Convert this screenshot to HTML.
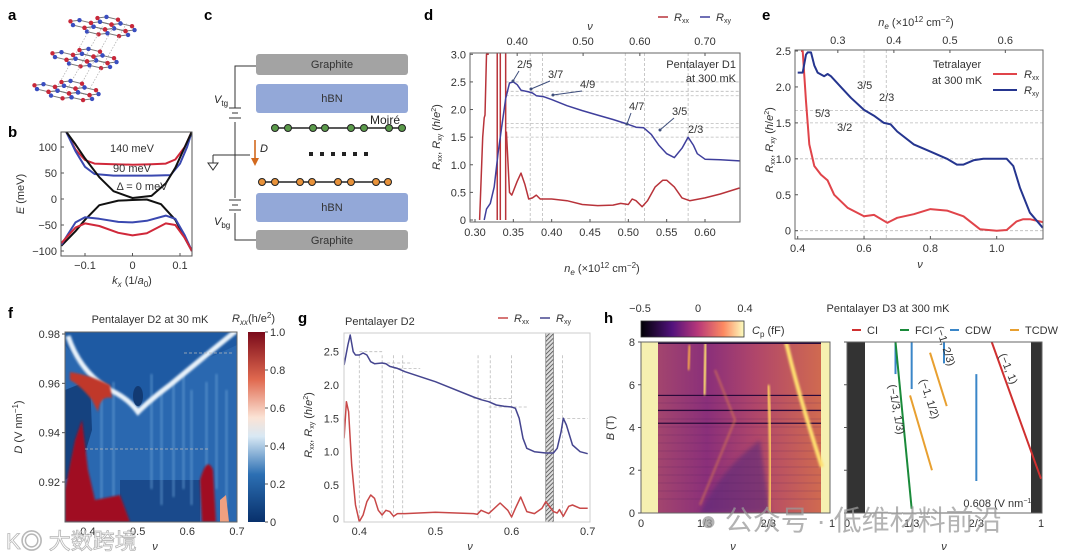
<!DOCTYPE html>
<html><head><meta charset="utf-8">
<style>
html,body{margin:0;padding:0;background:#fff;}
svg{display:block;font-family:"Liberation Sans","Noto Sans CJK SC",sans-serif;}
.t{font-size:11px;fill:#333;}
.pl{font-size:15px;font-weight:bold;fill:#000;}
</style></head>
<body>
<svg id="fig" width="1080" height="559" viewBox="0 0 1080 559" xmlns="http://www.w3.org/2000/svg">
<defs>
  <linearGradient id="cbf" x1="0" y1="1" x2="0" y2="0">
    <stop offset="0" stop-color="#08306b"/><stop offset="0.25" stop-color="#2c6fb3"/>
    <stop offset="0.45" stop-color="#d8e8f4"/><stop offset="0.55" stop-color="#fbe3d5"/>
    <stop offset="0.75" stop-color="#e0694f"/><stop offset="1" stop-color="#7a0a1a"/>
  </linearGradient>
  <linearGradient id="cbh" x1="0" y1="0" x2="1" y2="0">
    <stop offset="0" stop-color="#000004"/><stop offset="0.3" stop-color="#51127c"/>
    <stop offset="0.55" stop-color="#b73779"/><stop offset="0.8" stop-color="#fc8961"/>
    <stop offset="1" stop-color="#fcfdbf"/>
  </linearGradient>
  <linearGradient id="hmh" x1="0" y1="0" x2="1" y2="0">
    <stop offset="0" stop-color="#a3456e"/><stop offset="0.3" stop-color="#8a2f7a"/>
    <stop offset="0.6" stop-color="#b0466a"/><stop offset="1" stop-color="#d06a50"/>
  </linearGradient>
  <pattern id="hatch" width="3" height="3" patternUnits="userSpaceOnUse" patternTransform="rotate(45)">
    <rect width="3" height="3" fill="#ddd"/><line x1="0" y1="0" x2="0" y2="3" stroke="#444" stroke-width="1.5"/>
  </pattern>
  <filter id="blur2"><feGaussianBlur stdDeviation="2"/></filter>
  <filter id="blur1"><feGaussianBlur stdDeviation="1"/></filter>
</defs>

<text class="pl" x="8" y="20">a</text>
<text class="pl" x="8" y="137">b</text>
<text class="pl" x="204" y="20">c</text>
<text class="pl" x="424" y="20">d</text>
<text class="pl" x="762" y="20">e</text>
<text class="pl" x="8" y="318">f</text>
<text class="pl" x="298" y="323">g</text>
<text class="pl" x="604" y="323">h</text>

<g id="pa"></g>
<g id="pb"></g>

<g id="pc">
  <rect x="256" y="54" width="152" height="21" rx="3" fill="#a3a3a3"/>
  <text x="332" y="68" text-anchor="middle" class="t" fill="#222">Graphite</text>
  <rect x="256" y="84" width="152" height="29" rx="3" fill="#93a8d8"/>
  <text x="332" y="102" text-anchor="middle" class="t">hBN</text>
  <text x="370" y="124" font-size="12" fill="#222">Moiré</text>
  <line x1="275" y1="128" x2="402" y2="128" stroke="#222" stroke-width="1.5"/>
  <g fill="#5a9a4a" stroke="#222" stroke-width="1">
    <circle cx="275" cy="128" r="3.5"/><circle cx="288" cy="128" r="3.5"/><circle cx="313" cy="128" r="3.5"/><circle cx="325" cy="128" r="3.5"/>
    <circle cx="351" cy="128" r="3.5"/><circle cx="364" cy="128" r="3.5"/><circle cx="389" cy="128" r="3.5"/><circle cx="402" cy="128" r="3.5"/>
  </g>
  <g fill="#222"><rect x="309" y="152" width="4" height="4"/><rect x="320" y="152" width="4" height="4"/><rect x="331" y="152" width="4" height="4"/><rect x="342" y="152" width="4" height="4"/><rect x="353" y="152" width="4" height="4"/><rect x="364" y="152" width="4" height="4"/></g>
  <line x1="262" y1="182" x2="388" y2="182" stroke="#222" stroke-width="1.5"/>
  <g fill="#e8923a" stroke="#222" stroke-width="1">
    <circle cx="262" cy="182" r="3.5"/><circle cx="275" cy="182" r="3.5"/><circle cx="300" cy="182" r="3.5"/><circle cx="312" cy="182" r="3.5"/>
    <circle cx="338" cy="182" r="3.5"/><circle cx="351" cy="182" r="3.5"/><circle cx="376" cy="182" r="3.5"/><circle cx="388" cy="182" r="3.5"/>
  </g>
  <rect x="256" y="193" width="152" height="29" rx="3" fill="#93a8d8"/>
  <text x="332" y="211" text-anchor="middle" class="t">hBN</text>
  <rect x="256" y="230" width="152" height="20" rx="3" fill="#a3a3a3"/>
  <text x="332" y="244" text-anchor="middle" class="t" fill="#222">Graphite</text>
  <g stroke="#333" stroke-width="1" fill="none">
    <polyline points="256,66 235,66 235,108"/><line x1="229" y1="108" x2="241" y2="108"/><line x1="232" y1="113" x2="238" y2="113"/><line x1="229" y1="118" x2="241" y2="118"/>
    <line x1="235" y1="122" x2="235" y2="198"/>
    <line x1="213" y1="155" x2="250" y2="155"/><line x1="213" y1="155" x2="213" y2="163"/><polygon points="208,163 218,163 213,170"/>
    <line x1="229" y1="200" x2="241" y2="200"/><line x1="232" y1="205" x2="238" y2="205"/><line x1="229" y1="210" x2="241" y2="210"/>
    <polyline points="235,213 235,240 256,240"/>
  </g>
  <line x1="255" y1="140" x2="255" y2="160" stroke="#d2691e" stroke-width="1.6"/>
  <polygon points="251,158 259,158 255,166" fill="#d2691e"/>
  <text x="260" y="152" font-size="11" font-style="italic" fill="#222">D</text>
  <text x="214" y="103" font-size="11" font-style="italic" fill="#222">V<tspan font-size="8" dy="3" font-style="normal">tg</tspan></text>
  <text x="214" y="225" font-size="11" font-style="italic" fill="#222">V<tspan font-size="8" dy="3" font-style="normal">bg</tspan></text>
</g>

<g id="pd"></g>
<g id="pe"></g>
<g id="pf"></g>
<g id="pg"></g>
<g id="ph"></g>

<text x="6" y="549" font-size="22" fill="#fff" stroke="#aaa" stroke-width="0.8" opacity="0.85">K◎ 大数跨境</text>
<text x="700" y="530" font-size="28" fill="#9a9a9a" opacity="0.75">● 公众号 · 低维材料前沿</text>
</svg>

<script>
// ===== data arrays =====
const bK_black_up=[-0.14,-0.12,-0.1,-0.07,-0.04,0,0.04,0.07,0.09,0.11,0.125];
const bE_black_up=[130,105,78,42,15,2,6,30,60,100,130];
const bK_black_dn=[-0.15,-0.12,-0.1,-0.07,-0.03,0,0.03,0.06,0.09,0.11,0.125];
const bE_black_dn=[-90,-62,-40,-12,-3,-2,-1,-10,-40,-75,-100];
const bK_red_up=[-0.14,-0.12,-0.1,-0.08,-0.04,0,0.04,0.07,0.09,0.11,0.125];
const bE_red_up=[130,95,75,68,67,66,67,68,76,100,130];
const bK_blue_up=[-0.14,-0.12,-0.1,-0.08,-0.04,0,0.04,0.08,0.1,0.115,0.125];
const bE_blue_up=[130,92,62,48,45,45,45,46,68,100,130];
const bK_red_dn=[-0.15,-0.12,-0.1,-0.07,-0.03,0,0.03,0.07,0.09,0.11,0.125];
const bE_red_dn=[-85,-55,-47,-52,-65,-70,-66,-47,-50,-75,-100];
const bK_blue_dn=[-0.15,-0.12,-0.1,-0.07,-0.03,0,0.03,0.07,0.09,0.11,0.125];
const bE_blue_dn=[-88,-45,-35,-38,-44,-45,-42,-32,-38,-70,-100];
const bYTicks=[100,50,0,-50,-100];
const bXTicks=[-0.1,0,0.1];

const dNe_xy=[0.312,0.315,0.32,0.325,0.33,0.335,0.34,0.345,0.35,0.355,0.36,0.37,0.375,0.38,0.39,0.40,0.42,0.44,0.46,0.48,0.50,0.51,0.52,0.53,0.54,0.55,0.56,0.57,0.578,0.585,0.59,0.60,0.62,0.645];
const dRxy=[0,0.2,0.3,0.6,1.2,1.7,2.2,2.48,2.5,2.45,2.35,2.32,2.3,2.25,2.23,2.18,2.07,1.98,1.9,1.82,1.73,1.68,1.67,1.55,1.35,1.2,1.13,1.3,1.5,1.35,1.2,1.1,1.09,1.07];
const dNe_xx=[0.306,0.31,0.312,0.313,0.315,0.318];
const dRxx_a=[0,1.5,1.85,1.9,3.0,3.0];
const dSpikes=[0.329,0.333,0.340];
const dNe_xx2=[0.341,0.345,0.348,0.355,0.36,0.365,0.37,0.375,0.38,0.385,0.40,0.42,0.44,0.46,0.48,0.49,0.50,0.505,0.51,0.518,0.525,0.535,0.545,0.55,0.56,0.57,0.58,0.60,0.62,0.645];
const dRxx_b=[1.6,0.5,0.45,0.7,0.85,0.65,0.38,0.4,0.45,0.38,0.38,0.35,0.28,0.26,0.27,0.3,0.28,0.38,0.35,0.24,0.35,0.6,0.72,0.72,0.6,0.4,0.35,0.4,0.47,0.58];
const dXTicks=[0.30,0.35,0.40,0.45,0.50,0.55,0.60];
const dYTicks=[0,0.5,1.0,1.5,2.0,2.5,3.0];
const dNuLabels=["0.40","0.50","0.60","0.70"];
const dNuNe=[0.355,0.441,0.515,0.60];
const dGridV=[0.372,0.388,0.496,0.521,0.578];
const dGridH=[2.5,2.33,2.25,1.75,1.67,1.5];

const eNu_xy=[0.40,0.415,0.425,0.43,0.44,0.45,0.46,0.48,0.49,0.50,0.53,0.56,0.6,0.63,0.66,0.68,0.7,0.75,0.8,0.85,0.88,0.9,0.93,0.96,1.0,1.03,1.05,1.07,1.1,1.139];
const eRxy=[2.2,2.2,2.45,2.48,2.48,2.3,2.2,2.15,2.18,2.15,2.0,1.85,1.68,1.6,1.5,1.48,1.38,1.2,1.1,1.0,0.92,0.92,0.98,1.0,1.0,1.0,0.9,0.6,0.25,0.04];
const eNu_xx=[0.41,0.415,0.425,0.435,0.45,0.47,0.49,0.51,0.55,0.6,0.63,0.67,0.7,0.75,0.8,0.85,0.9,0.95,1.0,1.03,1.06,1.08,1.1,1.139];
const eRxx=[2.5,2.5,1.8,1.2,0.9,0.78,0.7,0.5,0.32,0.2,0.22,0.11,0.18,0.23,0.3,0.28,0.2,0.02,0,0.01,0.13,0.16,0.16,0.12];
const eXTicks=[0.4,0.6,0.8,1.0];
const eYTicks=[0,0.5,1.0,1.5,2.0,2.5];
const eTopLabels=["0.3","0.4","0.5","0.6"];
const eTopNu=[0.521,0.69,0.859,1.026];

const gNu_xy=[0.38,0.385,0.388,0.392,0.395,0.40,0.405,0.41,0.415,0.42,0.43,0.435,0.44,0.45,0.46,0.5,0.55,0.56,0.57,0.58,0.59,0.60,0.605,0.61,0.615,0.62,0.63,0.645,0.655,0.66,0.665,0.668,0.672,0.68,0.69,0.70];
const gRxy=[2.3,2.6,2.75,2.5,2.45,2.45,2.48,2.45,2.35,2.32,2.33,2.32,2.28,2.25,2.2,2.05,1.82,1.78,1.75,1.7,1.68,1.67,1.65,1.5,1.2,1.05,1.0,0.98,0.98,1.05,1.3,1.5,1.4,1.1,1.0,0.97];
const gNu_xx=[0.38,0.383,0.386,0.39,0.395,0.40,0.405,0.41,0.415,0.42,0.425,0.43,0.435,0.44,0.445,0.45,0.46,0.5,0.55,0.555,0.56,0.57,0.585,0.595,0.6,0.605,0.612,0.62,0.63,0.64,0.645,0.655,0.66,0.663,0.668,0.675,0.68,0.69,0.70];
const gRxx=[1.2,1.75,1.6,0.8,0.2,-0.05,0.05,0.25,0.35,0.3,0.12,0.05,0.12,0.1,0.03,0.07,0.07,0.09,0.07,0.06,0.12,0.07,0.23,0.12,0.02,0.15,0.32,0.1,0.07,0.15,0.25,0.1,0.08,0.13,0.03,0.18,0.2,0.15,0.15];
const gXTicks=[0.4,0.5,0.6,0.7];
const gYTicks=[0,0.5,1.0,1.5,2.0,2.5];
const gGridV=[0.40,0.43,0.445,0.457,0.556,0.572,0.60,0.667];

const hXTickLabels=["0","1/3","2/3","1"];
const hXTickVals=[0,1/3,2/3,1];
const hYTicks=[0,2,4,6,8];
const hCDW_nu=[0.25,1/3,0.5,2/3];
const hCDW_b0=[6.5,5.8,7.0,1.5];
const hCDW_b1=[8,8,8,6.5];
const hFCI=[[0.25,8],[1/3,0.2]];
const hTCDW1=[[0.428,7.5],[0.514,5.0]];
const hTCDW2=[[0.325,5.5],[0.438,2.0]];
const hCI=[[0.746,8],[1.0,1.6]];

// ===== helpers =====
const NS="http://www.w3.org/2000/svg";
function mk(tag,attrs,parent){const e=document.createElementNS(NS,tag);for(const k in attrs)e.setAttribute(k,attrs[k]);parent.appendChild(e);return e;}
function lin(d0,d1,r0,r1){return v=>r0+(v-d0)*(r1-r0)/(d1-d0);}
function pathD(xs,ys,sx,sy){return xs.map((x,i)=>(i?"L":"M")+sx(x).toFixed(1)+","+sy(ys[i]).toFixed(1)).join(" ");}
function txt(parent,x,y,s,attrs){const t=mk("text",Object.assign({x:x,y:y,class:"t"},attrs||{}),parent);t.textContent=s;return t;}

// ===== panel a: lattice =====
(function(){
  const g=document.getElementById("pa");
  const origins=[[82,24],[64,56],[46,88]];
  const s=9, h=Math.sqrt(3)*s;
  const proj=(o,x,y)=>[o[0]+x+0.9*y, o[1]+0.42*y-0.12*x];
  origins.forEach((o,li)=>{
    const verts=[];
    for(let i=0;i<3;i++)for(let j=0;j<2;j++){
      const cx=i*1.5*s, cy=j*h+(i%2)*h/2;
      const pts=[];for(let k=0;k<6;k++){const a=Math.PI/3*k;pts.push(proj(o,cx+s*Math.cos(a),cy+s*Math.sin(a)));verts.push([pts[k],k%2]);}
      const p=mk("polygon",{points:pts.map(p=>p.map(v=>v.toFixed(1)).join(",")).join(" "),fill:"none",stroke:"#777","stroke-width":1},g);
      
      
    }
    verts.forEach(v=>mk("circle",{cx:v[0][0],cy:v[0][1],r:2.2,fill:v[1]?"#3a4ec0":"#c8283a"},g));
    if(li<2){for(let k=0;k<4;k++){const p=proj(o,k*12,h*0.6);mk("line",{x1:p[0],y1:p[1],x2:p[0]-18,y2:p[1]+32,stroke:"#aaa","stroke-dasharray":"1.5,1.5","stroke-width":0.7},g);}}
  });
})();

// ===== panel b =====
(function(){
  const g=document.getElementById("pb");
  const L=61,R=192,T=132,B=256;
  const sx=lin(-0.1,0.1,85,180), sy=lin(100,-100,147,251);
  const clip=mk("clipPath",{id:"cb"},g);mk("rect",{x:L,y:T,width:R-L,height:B-T},clip);
  const cg=mk("g",{"clip-path":"url(#cb)"},g);
  [[bK_red_up,bE_red_up,"#d0283a","red-upper-band"],[bK_blue_up,bE_blue_up,"#3a48b0","blue-upper-band"],[bK_black_up,bE_black_up,"#111","black-upper-band"],
   [bK_black_dn,bE_black_dn,"#111","black-lower-band"],[bK_blue_dn,bE_blue_dn,"#3a48b0","blue-lower-band"],[bK_red_dn,bE_red_dn,"#d0283a","red-lower-band"]].forEach(s=>{
    const p=mk("path",{d:pathD(s[0],s[1],sx,sy),fill:"none",stroke:s[2],"stroke-width":2,"stroke-linejoin":"round"},cg);
    
    
  });
  mk("rect",{x:L,y:T,width:R-L,height:B-T,fill:"none",stroke:"#555","stroke-width":1},g);
  bYTicks.forEach(v=>{const y=sy(v);mk("line",{x1:L,y1:y,x2:L+3,y2:y,stroke:"#555"},g);txt(g,L-4,y+4,String(v).replace("-","−"),{"text-anchor":"end"});});
  bXTicks.forEach(v=>{const x=sx(v);mk("line",{x1:x,y1:B,x2:x,y2:B-3,stroke:"#555"},g);txt(g,x,B+13,String(v).replace("-","−"),{"text-anchor":"middle"});});
  txt(g,132,152,"140 meV",{"text-anchor":"middle"});
  txt(g,132,172,"90 meV",{"text-anchor":"middle"});
  txt(g,142,190,"Δ = 0 meV",{"text-anchor":"middle"});
  const yl=txt(g,0,0,"",{transform:"translate(24,194) rotate(-90)","text-anchor":"middle"});yl.innerHTML='<tspan font-style="italic">E</tspan> (meV)';
  const xl=txt(g,132,284,"",{"text-anchor":"middle"});xl.innerHTML='<tspan font-style="italic">k</tspan><tspan font-size="8" dy="3" font-style="italic">x</tspan><tspan dy="-3"> (1/</tspan><tspan font-style="italic">a</tspan><tspan font-size="8" dy="3">0</tspan><tspan dy="-3">)</tspan>';
})();

function frame(g,L,T,R,B){mk("rect",{x:L,y:T,width:R-L,height:B-T,fill:"none",stroke:"#666","stroke-width":1},g);}
function curve(g,xs,ys,sx,sy,color,name,w){const p=mk("path",{d:pathD(xs,ys,sx,sy),fill:"none",stroke:color,"stroke-width":w||1.5,"stroke-linejoin":"round"},g);return p;}
function dash(g,x1,y1,x2,y2){mk("line",{x1:x1,y1:y1,x2:x2,y2:y2,stroke:"#bbb","stroke-width":0.8,"stroke-dasharray":"3,2"},g);}

// ===== panel d =====
(function(){
  const g=document.getElementById("pd");
  const L=470,R=740,T=53,B=222;
  const sx=lin(0.30,0.60,475,705), sy=lin(0,3,220,54.3);
  dGridV.forEach(v=>dash(g,sx(v),T,sx(v),B));
  dGridH.forEach(v=>dash(g,sx(0.34),sy(v),R,sy(v)));
  const clip=mk("clipPath",{id:"cd"},g);mk("rect",{x:L,y:T,width:R-L,height:B-T},clip);
  const cg=mk("g",{"clip-path":"url(#cd)"},g);
  curve(cg,dNe_xx,dRxx_a,sx,sy,"#b8333a","rxx-line-d-start");
  dSpikes.forEach(v=>{const l=mk("line",{x1:sx(v),y1:sy(0),x2:sx(v),y2:T,stroke:"#b8333a","stroke-width":1.5},cg);});
  curve(cg,dNe_xx2,dRxx_b,sx,sy,"#b8333a","rxx-line-d");
  curve(cg,dNe_xy,dRxy,sx,sy,"#3f3f9c","rxy-line-d");
  frame(g,L,T,R,B);
  dYTicks.forEach(v=>{const y=sy(v);mk("line",{x1:L,y1:y,x2:L+3,y2:y,stroke:"#555"},g);txt(g,L-4,y+4,v===0?"0":v.toFixed(1),{"text-anchor":"end"});});
  dXTicks.forEach(v=>{const x=sx(v);mk("line",{x1:x,y1:B,x2:x,y2:B-3,stroke:"#555"},g);txt(g,x,B+14,v.toFixed(2),{"text-anchor":"middle"});});
  dNuLabels.forEach((s,i)=>{const x=sx(dNuNe[i]);mk("line",{x1:x,y1:T,x2:x,y2:T+3,stroke:"#555"},g);txt(g,x,T-8,s,{"text-anchor":"middle"});});
  txt(g,590,30,"ν",{"text-anchor":"middle","font-style":"italic","font-size":"12"});
  const xl=txt(g,602,272,"",{"text-anchor":"middle"});xl.innerHTML='<tspan font-style="italic">n</tspan><tspan font-size="8" dy="3" font-style="italic">e</tspan><tspan dy="-3"> (×10</tspan><tspan font-size="8" dy="-4">12</tspan><tspan dy="4"> cm</tspan><tspan font-size="8" dy="-4">−2</tspan><tspan dy="4">)</tspan>';
  const yl=txt(g,0,0,"",{transform:"translate(440,137) rotate(-90)","text-anchor":"middle"});yl.innerHTML='<tspan font-style="italic">R</tspan><tspan font-size="7" dy="2">xx</tspan><tspan dy="-2">, </tspan><tspan font-style="italic">R</tspan><tspan font-size="7" dy="2">xy</tspan><tspan dy="-2"> (</tspan><tspan font-style="italic">h</tspan>/<tspan font-style="italic">e</tspan><tspan font-size="7" dy="-4">2</tspan><tspan dy="4">)</tspan>';
  mk("line",{x1:658,y1:17,x2:668,y2:17,stroke:"#b8333a","stroke-width":1.5},g);
  const l1=txt(g,674,21,"");l1.innerHTML='<tspan font-style="italic">R</tspan><tspan font-size="7" dy="2">xx</tspan>';
  mk("line",{x1:700,y1:17,x2:710,y2:17,stroke:"#3f3f9c","stroke-width":1.5},g);
  const l2=txt(g,716,21,"");l2.innerHTML='<tspan font-style="italic">R</tspan><tspan font-size="7" dy="2">xy</tspan>';
  txt(g,736,68,"Pentalayer D1",{"text-anchor":"end","font-size":"12"});
  txt(g,736,82,"at 300 mK",{"text-anchor":"end","font-size":"12"});
  [["2/5",517,68,513,81],["3/7",548,78,531,89],["4/9",580,88,553,95],["4/7",629,110,627,124],["3/5",672,115,660,130]].forEach(a=>{
    txt(g,a[1],a[2],a[0]);mk("line",{x1:a[1]+2,y1:a[2]+3,x2:a[3],y2:a[4],stroke:"#3f4f7c","stroke-width":1},g);mk("circle",{cx:a[3],cy:a[4],r:1.5,fill:"#3f4f7c"},g);});
  txt(g,688,133,"2/3");
})();

// ===== panel e =====
(function(){
  const g=document.getElementById("pe");
  const L=795,R=1043,T=50,B=239;
  const sx=lin(0.4,1.0,797.7,996.7), sy=lin(0,2.5,230.7,51);
  [0.6,0.667].forEach(v=>dash(g,sx(v),T,sx(v),B));
  [1.67,1.5,1.0,0].forEach(v=>dash(g,L,sy(v),R,sy(v)));
  const clip=mk("clipPath",{id:"ce"},g);mk("rect",{x:L,y:T,width:R-L,height:B-T},clip);
  const cg=mk("g",{"clip-path":"url(#ce)"},g);
  curve(cg,eNu_xx,eRxx,sx,sy,"#e0444a","rxx-line-e",2);
  curve(cg,eNu_xy,eRxy,sx,sy,"#25358f","rxy-line-e",2);
  frame(g,L,T,R,B);
  eYTicks.forEach(v=>{const y=sy(v);mk("line",{x1:L,y1:y,x2:L+3,y2:y,stroke:"#555"},g);txt(g,L-4,y+4,v===0?"0":v.toFixed(1),{"text-anchor":"end"});});
  eXTicks.forEach(v=>{const x=sx(v);mk("line",{x1:x,y1:B,x2:x,y2:B-3,stroke:"#555"},g);txt(g,x,B+13,v.toFixed(1),{"text-anchor":"middle"});});
  eTopLabels.forEach((s,i)=>{const x=sx(eTopNu[i]);mk("line",{x1:x,y1:T,x2:x,y2:T+3,stroke:"#555"},g);txt(g,x,T-6,s,{"text-anchor":"middle"});});
  txt(g,920,268,"ν",{"text-anchor":"middle","font-style":"italic","font-size":"12"});
  const xt=txt(g,916,26,"",{"text-anchor":"middle"});xt.innerHTML='<tspan font-style="italic">n</tspan><tspan font-size="8" dy="3" font-style="italic">e</tspan><tspan dy="-3"> (×10</tspan><tspan font-size="8" dy="-4">12</tspan><tspan dy="4"> cm</tspan><tspan font-size="8" dy="-4">−2</tspan><tspan dy="4">)</tspan>';
  const yl=txt(g,0,0,"",{transform:"translate(773,140) rotate(-90)","text-anchor":"middle"});yl.innerHTML='<tspan font-style="italic">R</tspan><tspan font-size="7" dy="2">xx</tspan><tspan dy="-2">, </tspan><tspan font-style="italic">R</tspan><tspan font-size="7" dy="2">xy</tspan><tspan dy="-2"> (</tspan><tspan font-style="italic">h</tspan>/<tspan font-style="italic">e</tspan><tspan font-size="7" dy="-4">2</tspan><tspan dy="4">)</tspan>';
  txt(g,957,68,"Tetralayer",{"text-anchor":"middle","font-size":"12"});
  txt(g,957,84,"at 300 mK",{"text-anchor":"middle","font-size":"12"});
  mk("line",{x1:993,y1:74,x2:1017,y2:74,stroke:"#e0444a","stroke-width":2},g);
  mk("line",{x1:993,y1:90,x2:1017,y2:90,stroke:"#25358f","stroke-width":2},g);
  const a=txt(g,1024,78,"");a.innerHTML='<tspan font-style="italic">R</tspan><tspan font-size="7" dy="2">xx</tspan>';
  const b=txt(g,1024,94,"");b.innerHTML='<tspan font-style="italic">R</tspan><tspan font-size="7" dy="2">xy</tspan>';
  txt(g,857,89,"3/5");txt(g,879,101,"2/3");txt(g,815,117,"5/3");txt(g,837,131,"3/2");
})();

// ===== panel f heatmap =====
(function(){
  const g=document.getElementById("pf");
  const L=65,R=237,T=332,B=522;
  const sx=lin(0.4,0.7,88,237), sy=lin(0.98,0.92,334,482);
  const clip=mk("clipPath",{id:"cf"},g);mk("rect",{x:L,y:T,width:R-L,height:B-T},clip);
  const cg=mk("g",{"clip-path":"url(#cf)"},g);
  mk("rect",{x:L,y:T,width:R-L,height:B-T,fill:"#2a68b0"},cg);
  mk("path",{d:"M65,332 L237,332 L237,345 L200,362 L170,385 L140,410 L110,392 L85,372 L65,345 Z",fill:"#1e5aa3"},cg);
  mk("path",{d:"M65,390 L90,380 L92,430 L80,470 L65,480 Z",fill:"#15427f"},cg);
  mk("path",{d:"M120,480 L200,480 L200,522 L120,522 Z",fill:"#1a4a8c"},cg);
  [100,112,150,160,172,182,190,205,215,225].forEach((x,i)=>{mk("rect",{x:x,y:390-(i%3)*8,width:3,height:115,fill:"#6aa3d6",opacity:0.45,filter:"url(#blur1)"},cg);});
  mk("path",{d:"M68,336 Q80,372 110,390 Q128,398 138,412 Q150,400 170,385 Q205,356 237,330",fill:"none",stroke:"#e8f2fa","stroke-width":5,filter:"url(#blur1)"},cg);
  mk("ellipse",{cx:138,cy:396,rx:5,ry:10,fill:"#123a73"},cg);
  mk("path",{d:"M70,372 Q90,375 110,385 L112,398 Q100,395 98,412 L92,400 Q80,385 70,380Z",fill:"#c0392b",filter:"url(#blur1)"},cg);
  mk("path",{d:"M65,490 L75,440 L82,420 L88,470 L95,500 L120,495 L130,522 L65,522Z",fill:"#a01020",filter:"url(#blur1)"},cg);
  mk("path",{d:"M200,480 Q207,455 213,470 L216,522 L202,522Z",fill:"#a01020",filter:"url(#blur1)"},cg);
  mk("path",{d:"M220,500 L226,495 L229,522 L220,522Z",fill:"#f0a080"},cg);
  dash(g,85,449,210,449);dash(g,184,353,233,353);
  frame(g,L,T,R,B);
  [0.98,0.96,0.94,0.92].forEach(v=>{const y=sy(v);mk("line",{x1:L,y1:y,x2:L-3,y2:y,stroke:"#555"},g);txt(g,L-5,y+4,v.toFixed(2),{"text-anchor":"end"});});
  [0.4,0.5,0.6,0.7].forEach(v=>{const x=sx(v);txt(g,x,B+13,v.toFixed(1),{"text-anchor":"middle"});});
  txt(g,155,550,"ν",{"text-anchor":"middle","font-style":"italic","font-size":"12"});
  const yl=txt(g,0,0,"",{transform:"translate(22,427) rotate(-90)","text-anchor":"middle"});yl.innerHTML='<tspan font-style="italic">D</tspan> (V nm<tspan font-size="8" dy="-4">−1</tspan><tspan dy="4">)</tspan>';
  txt(g,150,323,"Pentalayer D2  at 30 mK",{"text-anchor":"middle","font-size":"12"});
  const cl=txt(g,232,322,"",{"font-size":"12"});cl.innerHTML='<tspan font-style="italic">R</tspan><tspan font-size="8" dy="3" font-style="italic">xx</tspan><tspan dy="-3">(h/e</tspan><tspan font-size="8" dy="-4">2</tspan><tspan dy="4">)</tspan>';
  const cb=mk("rect",{x:248,y:332,width:17,height:190,fill:"url(#cbf)"},g);
  ["1.0","0.8","0.6","0.4","0.2","0"].forEach((s,i)=>{const y=332+i*38;mk("line",{x1:265,y1:y,x2:268,y2:y,stroke:"#555"},g);txt(g,270,y+4,s);});
})();

// ===== panel g =====
(function(){
  const g=document.getElementById("pg");
  const L=344,R=590,T=333,B=522;
  const sx=lin(0.4,0.7,359.3,587.7), sy=lin(0,2.5,518.3,351.7);
  gGridV.forEach(v=>dash(g,sx(v),sy(0),sx(v),sy(2.45)));
  [[0.40,0.43,2.5],[0.43,0.47,2.33],[0.445,0.48,2.25],[0.55,0.6,1.8],[0.57,0.62,1.67],[0.66,0.7,1.5]].forEach(a=>dash(g,sx(a[0]),sy(a[2]),sx(a[1]),sy(a[2])));
  mk("rect",{x:sx(0.645),y:T,width:sx(0.655)-sx(0.645),height:B-T,fill:"url(#hatch)",stroke:"#444","stroke-width":0.5},g);
  const clip=mk("clipPath",{id:"cg"},g);mk("rect",{x:L,y:T,width:R-L,height:B-T},clip);
  const cg=mk("g",{"clip-path":"url(#cg)"},g);
  curve(cg,gNu_xx,gRxx,sx,sy,"#c84848","rxx-line-g");
  curve(cg,gNu_xy,gRxy,sx,sy,"#45458f","rxy-line-g");
  mk("rect",{x:L,y:T,width:R-L,height:B-T,fill:"none",stroke:"#ccc"},g);
  gYTicks.forEach(v=>{const y=sy(v);txt(g,L-5,y+4,v===0?"0":v.toFixed(1),{"text-anchor":"end"});});
  gXTicks.forEach(v=>{const x=sx(v);txt(g,x,B+13,v.toFixed(1),{"text-anchor":"middle"});});
  txt(g,470,550,"ν",{"text-anchor":"middle","font-style":"italic","font-size":"12"});
  const yl=txt(g,0,0,"",{transform:"translate(312,425) rotate(-90)","text-anchor":"middle"});yl.innerHTML='<tspan font-style="italic">R</tspan><tspan font-size="7" dy="2">xx</tspan><tspan dy="-2">, </tspan><tspan font-style="italic">R</tspan><tspan font-size="7" dy="2">xy</tspan><tspan dy="-2"> (</tspan><tspan font-style="italic">h</tspan>/<tspan font-style="italic">e</tspan><tspan font-size="7" dy="-4">2</tspan><tspan dy="4">)</tspan>';
  txt(g,345,325,"Pentalayer D2",{"font-size":"12"});
  mk("line",{x1:498,y1:318,x2:508,y2:318,stroke:"#c84848","stroke-width":1.5},g);
  const a=txt(g,514,322,"");a.innerHTML='<tspan font-style="italic">R</tspan><tspan font-size="7" dy="2">xx</tspan>';
  mk("line",{x1:540,y1:318,x2:550,y2:318,stroke:"#45458f","stroke-width":1.5},g);
  const b=txt(g,556,322,"");b.innerHTML='<tspan font-style="italic">R</tspan><tspan font-size="7" dy="2">xy</tspan>';
})();

// ===== panel h =====
(function(){
  const g=document.getElementById("ph");
  const L=641,R=830,T=342,B=513;
  const sx=lin(0,1,641,832), sy=lin(0,8,513,342);
  const clip=mk("clipPath",{id:"ch"},g);mk("rect",{x:L,y:T,width:R-L,height:B-T},clip);
  const cg=mk("g",{"clip-path":"url(#ch)"},g);
  mk("rect",{x:L,y:T,width:R-L,height:B-T,fill:"#f6f0b0"},cg);
  mk("rect",{x:658,y:T,width:163,height:B-T,fill:"url(#hmh)"},cg);
  mk("path",{d:"M700,513 Q720,470 760,440 L770,513Z",fill:"#5a2a7a",opacity:0.6,filter:"url(#blur2)"},cg);
  for(let i=0;i<14;i++){mk("line",{x1:658,y1:395+i*8,x2:821,y2:395+i*8,stroke:"#4a1a5a","stroke-width":0.6,opacity:0.4},cg);}
  [5.5,4.2,4.8].forEach(v=>mk("line",{x1:658,y1:sy(v),x2:821,y2:sy(v),stroke:"#2a0a3a","stroke-width":1.2},cg));
  mk("path",{d:"M786,342 Q800,400 822,467",fill:"none",stroke:"#ffe070","stroke-width":4,filter:"url(#blur1)"},cg);
  mk("path",{d:"M768,385 Q772,450 770,513",fill:"none",stroke:"#ffd060","stroke-width":3,filter:"url(#blur1)"},cg);
  mk("path",{d:"M706,342 L704,395",fill:"none",stroke:"#ffe070","stroke-width":3,filter:"url(#blur1)"},cg);
  mk("path",{d:"M690,345 L688,370",fill:"none",stroke:"#f0a050","stroke-width":3,filter:"url(#blur1)"},cg);
  mk("path",{d:"M715,370 L735,420 L700,505",fill:"none",stroke:"#e08050","stroke-width":2,opacity:0.6,filter:"url(#blur1)"},cg);
  mk("line",{x1:658,y1:343,x2:821,y2:343,stroke:"#2a0a3a","stroke-width":2},cg);
  frame(g,L,T,R,B);
  hYTicks.forEach(v=>{const y=sy(v);mk("line",{x1:L,y1:y,x2:L-3,y2:y,stroke:"#555"},g);txt(g,L-6,y+4,String(v),{"text-anchor":"end"});});
  hXTickLabels.forEach((s,i)=>{txt(g,sx(hXTickVals[i]),B+14,s,{"text-anchor":"middle"});});
  txt(g,733,550,"ν",{"text-anchor":"middle","font-style":"italic","font-size":"12"});
  const yl=txt(g,0,0,"",{transform:"translate(614,428) rotate(-90)","text-anchor":"middle"});yl.innerHTML='<tspan font-style="italic">B</tspan> (T)';
  const cb=mk("rect",{x:641,y:321,width:103,height:16,fill:"url(#cbh)",stroke:"#333","stroke-width":0.8},g);
  txt(g,640,312,"−0.5",{"text-anchor":"middle"});txt(g,698,312,"0",{"text-anchor":"middle"});txt(g,745,312,"0.4",{"text-anchor":"middle"});
  const cpl=txt(g,752,334,"",{"font-size":"12"});cpl.innerHTML='<tspan font-style="italic">C</tspan><tspan font-size="8" dy="3">p</tspan><tspan dy="-3"> (fF)</tspan>';
  txt(g,888,312,"Pentalayer D3 at 300 mK",{"text-anchor":"middle","font-size":"12"});

  const L2=847,R2=1042;
  const sx2=lin(0,1,847,1041);
  mk("rect",{x:L2,y:T,width:18,height:B-T,fill:"#333"},g);
  mk("rect",{x:1031,y:T,width:11,height:B-T,fill:"#333"},g);
  hCDW_nu.forEach((v,i)=>{const l=mk("line",{x1:sx2(v),y1:sy(hCDW_b0[i]),x2:sx2(v),y2:sy(hCDW_b1[i]),stroke:"#3a86c8","stroke-width":2},g);});
  [[hFCI,"#1a8a3a","fci-line"],[hTCDW1,"#e8a030","tcdw-line"],[hTCDW2,"#e8a030","tcdw-line"],[hCI,"#d03030","ci-line"]].forEach(s=>{
    const l=mk("line",{x1:sx2(s[0][0][0]),y1:sy(s[0][0][1]),x2:sx2(s[0][1][0]),y2:sy(s[0][1][1]),stroke:s[1],"stroke-width":2},g);
    
    
  });
  frame(g,L2,T,R2,B);
  hYTicks.forEach(v=>{const y=sy(v);mk("line",{x1:L2,y1:y,x2:L2-3,y2:y,stroke:"#555"},g);});
  hXTickLabels.forEach((s,i)=>{txt(g,sx2(hXTickVals[i]),B+14,s,{"text-anchor":"middle"});});
  txt(g,944,550,"ν",{"text-anchor":"middle","font-style":"italic","font-size":"12"});
  [["(−1/3, 1/3)",893,410,80],["(−1, 1/2)",926,400,72],["(−1, 2/3)",942,347,72],["(−1, 1)",1005,370,68]].forEach(a=>txt(g,0,0,a[0],{transform:`translate(${a[1]},${a[2]}) rotate(${a[3]})`,"text-anchor":"middle","font-size":"10"}));
  const pv=txt(g,1035,507,"",{"text-anchor":"end","font-size":"10"});pv.innerHTML='0.608 (V nm<tspan font-size="7" dy="-4">−1</tspan><tspan dy="4">)</tspan>';
  [["CI","#d03030",852],["FCI","#1a8a3a",900],["CDW","#3a86c8",950],["TCDW","#e8a030",1010]].forEach(a=>{
    mk("line",{x1:a[2],y1:330,x2:a[2]+9,y2:330,stroke:a[1],"stroke-width":2},g);
    txt(g,a[2]+15,334,a[0],{"font-size":"12"});
  });
})();
</script>
</body></html>
